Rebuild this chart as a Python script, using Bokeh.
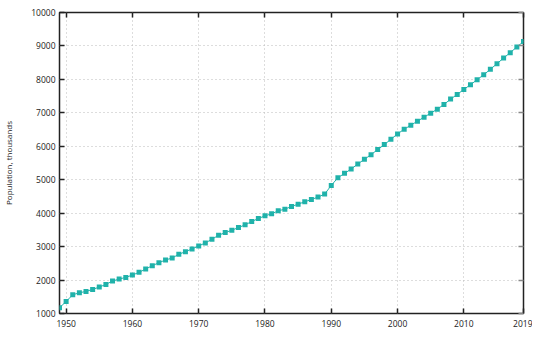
from bokeh.plotting import figure
from bokeh.models import Range1d, FixedTicker, LinearAxis, CustomJSTickFormatter
from bokeh.embed import file_html
from bokeh.resources import INLINE

years = list(range(1949, 2020))
population = [
    1170, 1360, 1560, 1620, 1660, 1720, 1790, 1870, 1970, 2030,
    2080, 2150, 2230, 2330, 2430, 2520, 2600, 2660, 2770, 2850,
    2930, 3020, 3110, 3220, 3340, 3420, 3490, 3570, 3650, 3750,
    3840, 3920, 3980, 4070, 4120, 4200, 4270, 4340, 4410, 4480,
    4570, 4830, 5060, 5190, 5320, 5470, 5610, 5750, 5900, 6050,
    6210, 6370, 6510, 6630, 6750, 6870, 6990, 7110, 7250, 7410,
    7550, 7700, 7840, 7990, 8140, 8300, 8470, 8640, 8800, 8970,
    9130,
]
x_ticks = [1950, 1960, 1970, 1980, 1990, 2000, 2010, 2019]
y_ticks = [1000, 2000, 3000, 4000, 5000, 6000, 7000, 8000, 9000, 10000]
y_label = "Population, thousands"

COLOR = "#20b2aa"
FONT = "Open Sans"

p = figure(width=532, height=334, output_backend="svg", toolbar_location=None,
           x_range=Range1d(1949, 2019), y_range=Range1d(1000, 10000),
           min_border_left=59, min_border_top=12, min_border_right=9, min_border_bottom=21,
           x_axis_location=None, y_axis_location=None)
p.outline_line_color = "#222222"
p.outline_line_width = 1.5
p.background_fill_color = "white"
p.border_fill_color = "white"

blank = CustomJSTickFormatter(code="return ''")

def style(ax, labels=True):
    ax.axis_line_color = None
    ax.major_tick_in = 5
    ax.major_tick_out = 0
    ax.minor_tick_line_color = None
    ax.major_tick_line_color = "#222222"
    ax.major_tick_line_width = 1.5
    ax.major_label_text_font = FONT
    ax.major_label_text_font_size = "8.5px"
    ax.major_label_text_color = "#222222"
    ax.major_label_standoff = 4 if labels else 0
    if not labels:
        ax.formatter = blank

bx = LinearAxis(ticker=FixedTicker(ticks=x_ticks))
style(bx)
bx.major_label_standoff = 6
p.add_layout(bx, "below")
ly = LinearAxis(ticker=FixedTicker(ticks=y_ticks), axis_label=y_label)
style(ly)
ly.axis_label_text_font = FONT
ly.axis_label_text_font_size = "8px"
ly.axis_label_text_font_style = "normal"
ly.axis_label_text_color = "#222222"
ly.axis_label_standoff = 14
p.add_layout(ly, "left")
tx = LinearAxis(ticker=FixedTicker(ticks=x_ticks))
style(tx, labels=False)
p.add_layout(tx, "above")
ry = LinearAxis(ticker=FixedTicker(ticks=y_ticks))
style(ry, labels=False)
ry.major_tick_line_color = "#888888"
p.add_layout(ry, "right")

p.xgrid.ticker = FixedTicker(ticks=x_ticks)
p.ygrid.ticker = FixedTicker(ticks=y_ticks)
for g in (p.xgrid, p.ygrid):
    g.grid_line_color = "#bbbbbb"
    g.grid_line_dash = "1 3"
    g.grid_line_width = 1

p.line(years, population, color=COLOR, line_width=1)
p.scatter(years, population, marker="square", size=5, fill_color=COLOR, line_color=None)

open("out.html", "w").write(file_html(p, INLINE))
